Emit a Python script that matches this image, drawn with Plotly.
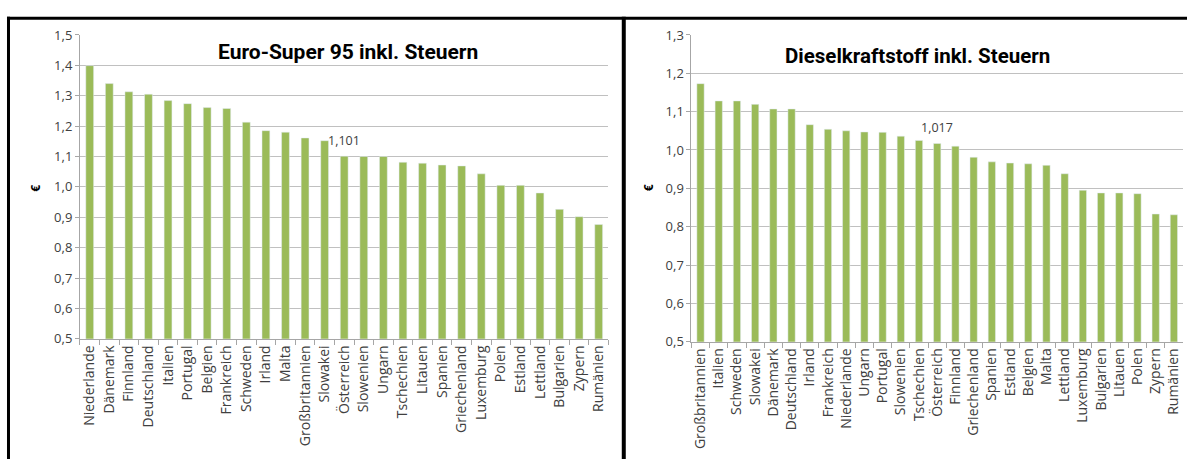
import plotly.graph_objects as go

W, H = 1187, 468

# Euro-Super 95 prices incl. taxes (EUR per litre)
super_countries = ["Niederlande", "Dänemark", "Finnland", "Deutschland", "Italien", "Portugal",
                   "Belgien", "Frankreich", "Schweden", "Irland", "Malta", "Großbritannien",
                   "Slowakei", "Österreich", "Slowenien", "Ungarn", "Tschechien", "Litauen",
                   "Spanien", "Griechenland", "Luxemburg", "Polen", "Estland", "Lettland",
                   "Bulgarien", "Zypern", "Rumänien"]
super_prices = [1.399, 1.340, 1.313, 1.305, 1.284, 1.274, 1.261, 1.258, 1.213, 1.185, 1.180,
                1.161, 1.152, 1.101, 1.100, 1.100, 1.081, 1.078, 1.072, 1.069, 1.043, 1.005,
                1.005, 0.980, 0.926, 0.902, 0.876]

# Diesel prices incl. taxes (EUR per litre)
diesel_countries = ["Großbritannien", "Italien", "Schweden", "Slowakei", "Dänemark", "Deutschland",
                    "Irland", "Frankreich", "Niederlande", "Ungarn", "Portugal", "Slowenien",
                    "Tschechien", "Österreich", "Finnland", "Griechenland", "Spanien", "Estland",
                    "Belgien", "Malta", "Lettland", "Luxemburg", "Bulgarien", "Litauen", "Polen",
                    "Zypern", "Rumänien"]
diesel_prices = [1.173, 1.128, 1.128, 1.119, 1.107, 1.107, 1.066, 1.054, 1.050, 1.047, 1.046,
                 1.036, 1.025, 1.017, 1.010, 0.981, 0.969, 0.966, 0.964, 0.960, 0.938, 0.895,
                 0.888, 0.888, 0.886, 0.833, 0.831]

highlight = "Österreich"

BAR = "#9BBB59"
GRID = "#C0C0C0"
AXIS = "#A6A6A6"
TXT = "#404040"
FONT = "Open Sans"
TITLE_FONT = "Roboto"


def px_x(p):
    return p / W


def px_y(p):
    return 1 - p / H


fig = go.Figure()
fig.add_trace(go.Bar(x=super_countries, y=super_prices, marker_color=BAR,
                     xaxis="x", yaxis="y", showlegend=False))
fig.add_trace(go.Bar(x=diesel_countries, y=diesel_prices, marker_color=BAR,
                     xaxis="x2", yaxis="y2", showlegend=False))

common_x = dict(type="category", showgrid=False, showline=True, linecolor=AXIS, linewidth=1,
                ticks="outside", ticklen=5, tickcolor=AXIS, tickson="boundaries",
                tickangle=-90, tickmode="array",
                tickfont=dict(family=FONT, size=14, color=TXT))
common_y = dict(showgrid=True, gridcolor=GRID, gridwidth=1, showline=True, linecolor=AXIS,
                linewidth=1, ticks="outside", ticklen=4, tickcolor=AXIS, dtick=0.1,
                tickformat=".1f", zeroline=False,
                tickfont=dict(family=FONT, size=13, color=TXT))

fig.update_layout(
    width=W, height=H, margin=dict(l=0, r=0, t=0, b=0),
    paper_bgcolor="white", plot_bgcolor="white",
    separators=",.", bargap=0.6,
    xaxis=dict(domain=[px_x(79), px_x(608)], anchor="y", tickvals=super_countries,
               ticktext=super_countries, **common_x),
    yaxis=dict(domain=[px_y(343), px_y(27)], range=[0.5, 1.5], anchor="x", **common_y),
    xaxis2=dict(domain=[px_x(691), px_x(1183)], anchor="y2", tickvals=diesel_countries,
                ticktext=diesel_countries, **common_x),
    yaxis2=dict(domain=[px_y(346), px_y(27)], range=[0.5, 1.3], anchor="x2", **common_y),
)

# value labels above the highlighted bars
i1 = super_countries.index(highlight)
i2 = diesel_countries.index(highlight)
for xr, yr, x, v in [("x", "y", super_countries[i1], super_prices[i1]),
                     ("x2", "y2", diesel_countries[i2], diesel_prices[i2])]:
    fig.add_annotation(x=x, y=v, xref=xr, yref=yr, text=f"{v:.3f}".replace(".", ","),
                       showarrow=False, yanchor="bottom", yshift=5,
                       font=dict(family=FONT, size=12.5, color=TXT))

# chart titles
fig.add_annotation(x=px_x(347), y=px_y(45), xref="paper", yref="paper", xanchor="center",
                   yanchor="middle", text="<b>Euro-Super 95 inkl. Steuern</b>", showarrow=False,
                   font=dict(family=TITLE_FONT, size=21, color="black"))
fig.add_annotation(x=px_x(917), y=px_y(49), xref="paper", yref="paper", xanchor="center",
                   yanchor="middle", text="<b>Dieselkraftstoff inkl. Steuern</b>", showarrow=False,
                   font=dict(family=TITLE_FONT, size=20.5, color="black"))

# axis titles
for xp in (35, 648):
    fig.add_annotation(x=px_x(xp), y=px_y(186), xref="paper", yref="paper", text="<b>€</b>",
                       xanchor="center", yanchor="middle", textangle=-90, showarrow=False,
                       font=dict(family=FONT, size=12, color="black"))

# panel frames
frame = dict(type="line", xref="paper", yref="paper", line=dict(color="black", width=3))
fig.add_shape(x0=px_x(6), x1=1, y0=px_y(9.5), y1=px_y(9.5), **frame)
fig.add_shape(x0=px_x(7.5), x1=px_x(7.5), y0=px_y(8), y1=0, **frame)
fig.add_shape(type="line", xref="paper", yref="paper", x0=px_x(623.3), x1=px_x(623.3),
              y0=px_y(8), y1=0, line=dict(color="black", width=4))

fig.write_html("out.html")
